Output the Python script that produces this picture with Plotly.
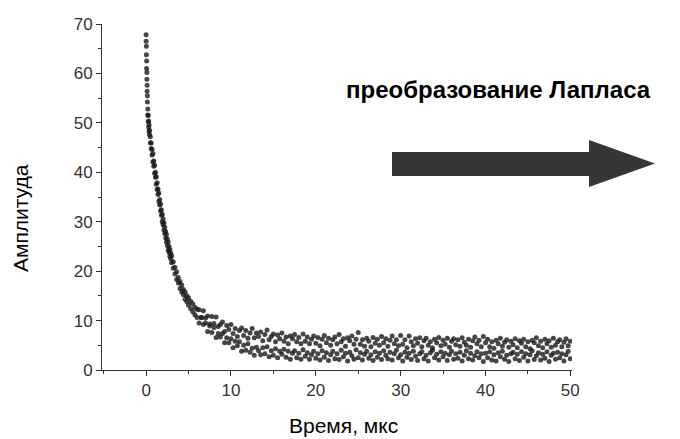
import plotly.graph_objects as go

# time grid (мкс)
time_us = [0, 0.03, 0.06, 0.09, 0.12, 0.15, 0.2, 0.25, 0.3, 0.35, 0.4, 0.5, 0.6, 0.7, 0.8, 0.9,
           1.0, 1.1, 1.2, 1.3, 1.4, 1.5, 1.6, 1.7, 1.8, 1.9, 2.0, 2.1, 2.2, 2.3, 2.4, 2.5, 2.6, 2.7,
           2.8, 2.9, 3.0, 3.2, 3.4, 3.6, 3.8, 4.0, 4.2, 4.4, 4.6, 4.8, 5.0, 5.25, 5.5, 5.75, 6.0,
           6.25, 6.5, 6.75, 7.0, 7.25, 7.5, 7.75, 8.0, 8.25, 8.5, 8.75, 9.0, 9.25, 9.5, 9.75, 10.0,
           10.25, 10.5, 10.75, 11.0, 11.25, 11.5, 11.75, 12.0, 12.25, 12.5, 12.75, 13.0, 13.25, 13.5,
           13.75, 14.0, 14.25, 14.5, 14.75, 15.0, 15.25, 15.5, 15.75, 16.0, 16.25, 16.5, 16.75, 17.0,
           17.25, 17.5, 17.75, 18.0, 18.25, 18.5, 18.75, 19.0, 19.25, 19.5, 19.75, 20.0,
           20.25, 20.5, 20.75, 21.0, 21.25, 21.5, 21.75, 22.0, 22.25, 22.5, 22.75, 23.0, 23.25, 23.5,
           23.75, 24.0, 24.25, 24.5, 24.75, 25.0, 25.25, 25.5, 25.75, 26.0, 26.25, 26.5, 26.75, 27.0,
           27.25, 27.5, 27.75, 28.0, 28.25, 28.5, 28.75, 29.0, 29.25, 29.5, 29.75, 30.0,
           30.25, 30.5, 30.75, 31.0, 31.25, 31.5, 31.75, 32.0, 32.25, 32.5, 32.75, 33.0, 33.25, 33.5,
           33.75, 34.0, 34.25, 34.5, 34.75, 35.0, 35.25, 35.5, 35.75, 36.0, 36.25, 36.5, 36.75, 37.0,
           37.25, 37.5, 37.75, 38.0, 38.25, 38.5, 38.75, 39.0, 39.25, 39.5, 39.75, 40.0,
           40.25, 40.5, 40.75, 41.0, 41.25, 41.5, 41.75, 42.0, 42.25, 42.5, 42.75, 43.0, 43.25, 43.5,
           43.75, 44.0, 44.25, 44.5, 44.75, 45.0, 45.25, 45.5, 45.75, 46.0, 46.25, 46.5, 46.75, 47.0,
           47.25, 47.5, 47.75, 48.0, 48.25, 48.5, 48.75, 49.0, 49.25, 49.5, 49.75, 50.0]

# upper band of the measured signal
amp_upper = [67.8, 65.5, 62.5, 60.2, 57.6, 55.5, 52.8, 51.5, 50.4, 49.6, 48.5, 47.2, 45.9, 44.6, 43.8, 42.3,
             41.4, 40.0, 39.1, 37.9, 36.6, 35.8, 34.5, 33.6, 32.4, 31.5, 30.6, 29.8, 28.9, 28.0, 27.4, 26.5, 25.9, 25.0,
             24.4, 23.6, 23.1, 21.9, 20.8, 19.9, 18.7, 17.9, 17.2, 16.3, 15.8, 15.0, 14.6, 13.9, 13.4, 12.7, 12.3,
             12.2, 10.6, 12.0, 10.5, 10.9, 9.3, 10.8, 9.4, 10.7, 8.8, 9.2, 9.7, 7.8, 9.0, 8.2, 9.2,
             7.4, 8.4, 6.8, 8.0, 8.5, 7.0, 8.0, 6.4, 7.5, 8.4, 6.5, 7.5, 6.8, 7.7,
             5.9, 7.2, 8.1, 6.1, 6.8, 7.3, 5.7, 7.1, 6.3, 7.5, 5.8, 6.7, 5.3, 6.9,
             6.3, 7.2, 5.7, 6.6, 5.3, 7.3, 5.8, 6.7, 5.3, 6.2, 6.9, 5.4,
             6.6, 4.9, 6.2, 7.0, 5.5, 6.4, 5.0, 6.1, 6.7, 5.3, 7.2, 5.7, 6.3, 4.8,
             6.5, 5.9, 6.9, 5.2, 6.2, 7.6, 5.2, 6.1, 4.8, 6.4, 5.8, 4.7, 6.6, 5.4,
             6.2, 5.0, 6.8, 5.5, 6.3, 4.8, 6.0, 6.9, 5.3, 6.1, 4.9, 7.0,
             5.2, 6.1, 4.5, 6.9, 5.7, 4.9, 6.3, 5.4, 6.5, 4.7, 5.9, 6.4, 5.0, 5.7,
             4.5, 6.2, 5.5, 6.6, 4.9, 6.0, 5.2, 6.4, 4.6, 5.8, 6.3, 5.1, 6.1, 4.8,
             6.5, 5.6, 5.0, 6.2, 4.6, 5.9, 6.7, 5.3, 6.0, 4.7, 6.8, 5.5,
             6.2, 4.7, 5.7, 4.4, 6.0, 5.3, 6.4, 4.8, 5.6, 6.1, 4.6, 5.8, 5.1, 6.3,
             4.5, 5.9, 5.4, 6.2, 4.7, 5.7, 4.3, 6.0, 5.5, 6.5, 4.9, 5.8, 4.5, 6.2,
             5.3, 5.9, 4.6, 6.4, 5.0, 5.7, 6.1, 4.7, 5.6, 6.3, 4.9, 5.8]

# lower band of the measured signal
amp_lower = [66.5, 63.8, 61.0, 58.8, 56.4, 54.2, 51.6, 50.2, 49.1, 48.2, 47.6, 46.0, 44.8, 43.5, 42.1, 41.2,
             39.8, 39.0, 37.6, 36.5, 35.5, 34.1, 33.4, 32.2, 31.3, 30.0, 29.4, 28.3, 27.6, 26.7, 25.9, 25.2, 24.3, 23.8,
             23.0, 22.5, 21.7, 20.6, 19.4, 18.3, 17.6, 16.5, 15.8, 15.2, 14.3, 13.8, 13.1, 12.4, 11.8, 11.2, 10.6,
             9.5, 10.6, 9.2, 9.5, 7.8, 8.9, 7.6, 8.6, 6.6, 7.4, 6.7, 7.4, 5.5, 6.5, 5.5, 6.3,
             4.5, 5.8, 4.9, 5.7, 3.8, 5.0, 4.0, 5.3, 3.6, 4.4, 3.0, 4.6, 3.9, 3.1,
             4.5, 3.3, 4.7, 2.7, 3.9, 3.0, 4.3, 2.5, 3.8, 3.2, 4.2, 2.6, 3.8, 2.2,
             3.4, 3.9, 2.5, 3.4, 2.2, 4.1, 2.8, 3.5, 2.2, 3.1, 3.8, 2.4,
             3.3, 2.0, 3.9, 2.6, 3.5, 1.9, 3.1, 3.8, 2.3, 3.3, 2.1, 4.0, 2.7, 3.4,
             1.8, 3.6, 2.9, 2.2, 4.1, 2.5, 3.5, 2.0, 3.2, 3.8, 2.4, 3.1, 1.9, 3.7,
             2.6, 3.4, 2.1, 3.9, 3.0, 2.3, 3.6, 2.0, 3.3, 4.0, 2.5, 3.1,
             1.8, 3.6, 2.6, 3.4, 2.1, 3.8, 2.8, 1.9, 3.3, 3.7, 2.3, 3.0, 1.8, 3.5,
             4.0, 2.5, 3.2, 2.0, 3.7, 2.7, 3.4, 1.9, 3.1, 3.8, 2.2, 3.3, 2.4, 3.6,
             1.8, 3.0, 3.9, 2.3, 3.4, 2.0, 2.9, 3.7, 2.5, 3.3, 1.7, 3.4,
             2.5, 3.7, 2.0, 3.1, 1.8, 3.5, 2.7, 3.8, 2.2, 3.0, 1.7, 3.3, 3.6, 2.3,
             3.2, 1.9, 3.7, 2.6, 3.3, 1.8, 3.1, 3.9, 2.1, 2.9, 3.5, 2.0, 3.2, 2.4,
             3.7, 1.7, 3.0, 3.4, 2.2, 3.6, 2.5, 3.3, 1.8, 3.1, 3.8, 2.3]

x_ticks = [0, 10, 20, 30, 40, 50]
y_ticks = [0, 10, 20, 30, 40, 50, 60, 70]

FONT = "Liberation Sans, Arial, sans-serif"
OFF = 8  # default page margin of the html body
W, H = 680 - OFF, 439 - OFF
L, T = 102 - OFF, 24 - OFF
R = W - (572 - OFF)
B = H - (370 - OFF)
PW, PH = W - L - R, H - T - B


def px(x):  # screen pixel -> paper
    return (x - OFF - L) / PW


def py(y):
    return (H - B - (y - OFF)) / PH


fig = go.Figure()
marker = dict(size=5, color="rgba(25,25,25,0.8)", line=dict(width=0))
fig.add_trace(go.Scatter(x=time_us, y=amp_upper, mode="markers", marker=marker, showlegend=False))
fig.add_trace(go.Scatter(x=time_us, y=amp_lower, mode="markers", marker=marker, showlegend=False))

axis_common = dict(showline=True, linecolor="#333", linewidth=1, ticks="outside", ticklen=5,
                   tickcolor="#333", showgrid=False, zeroline=False,
                   tickfont=dict(family=FONT, size=17, color="#333"),
                   minor=dict(ticks="outside", ticklen=3, dtick=5, tickcolor="#333", showgrid=False))
fig.update_xaxes(range=[-5.2, 50.2], tickvals=x_ticks, **axis_common)
fig.update_yaxes(range=[0, 70], tickvals=y_ticks, **axis_common)

arrow = [(392, 152), (589, 152), (589, 140), (655, 163.5), (589, 187), (589, 176), (392, 176)]
path = "M " + " L ".join(f"{px(a):.4f} {py(b):.4f}" for a, b in arrow) + " Z"
fig.add_shape(type="path", xref="paper", yref="paper", path=path,
              fillcolor="#363636", line=dict(width=0))

fig.add_annotation(text="<b>преобразование Лапласа</b>", xref="paper", yref="paper",
                   x=px(498), y=py(90), showarrow=False, xanchor="center", yanchor="middle",
                   font=dict(family=FONT, size=24, color="#000"))
fig.add_annotation(text="Время, мкс", xref="paper", yref="paper",
                   x=px(343), y=py(425), showarrow=False, xanchor="center", yanchor="middle",
                   font=dict(family=FONT, size=21, color="#000"))
fig.add_annotation(text="Амплитуда", xref="paper", yref="paper", textangle=-90,
                   x=px(20), y=py(218), showarrow=False, xanchor="center", yanchor="middle",
                   font=dict(family=FONT, size=21, color="#000"))

fig.update_layout(width=W, height=H, margin=dict(l=L, r=R, t=T, b=B, autoexpand=False),
                  plot_bgcolor="white", paper_bgcolor="white")
fig.write_html("out.html")
